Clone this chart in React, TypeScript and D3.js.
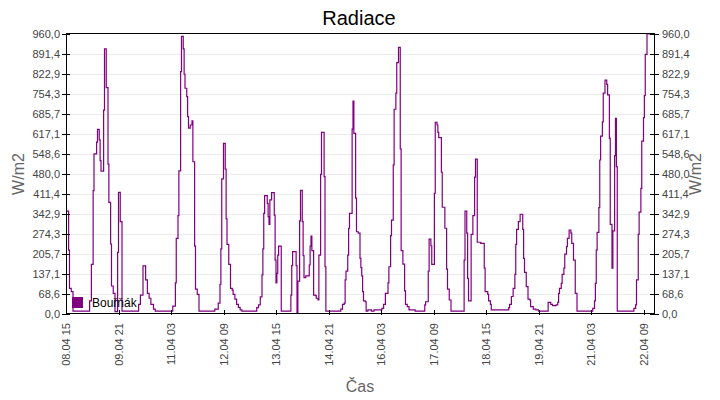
import React from "react";
import * as d3 from "d3";

// Half-hour offsets from 08.04 15:00 where a new value starts (step data)
const slots = [
  0, 3, 4, 6, 8, 27, 29, 31, 32, 35, 36, 38, 39, 40, 43, 44, 46, 48, 49, 51, 52, 54, 56, 59, 60, 62, 64,
  83, 85, 88, 91, 93, 95, 97, 100, 102,
  122, 125, 126, 128, 129, 131, 132, 134, 135, 136, 138, 139, 140, 142, 144, 145, 147, 148, 150, 152,
  170, 174, 176, 177, 178, 180, 182, 183, 184, 186, 188, 190, 191, 193, 195, 197, 199, 201,
  218, 220, 222, 224, 225, 226, 227, 230, 231, 232, 233, 235, 238, 239, 240, 241, 242, 243, 246,
  257, 258, 259, 263, 264, 265, 267, 268, 270, 271, 272, 274, 278, 279, 280, 281, 283, 285, 286, 288, 289, 291, 292, 295, 296, 297,
  314, 316, 318, 319, 320, 322, 323, 324, 327, 328, 329, 331, 332, 334, 336, 337, 338, 339, 340, 342, 343, 345, 349, 352,
  361, 363, 365, 368, 369, 371, 372, 374, 375, 377, 378, 380, 382, 383, 385, 387, 388, 390, 392, 399,
  410, 411, 414, 415, 417, 418, 421, 422, 424, 425, 426, 429, 430, 433, 435, 436, 438, 440,
  455, 456, 458, 459, 460, 463, 465, 467, 468, 470, 474, 478, 479, 482, 483, 485, 486,
  506, 507, 509, 511, 513, 514, 515, 517, 519, 522, 523, 524, 526, 528, 530, 531, 534, 537, 540,
  551, 554, 556, 560, 562, 563, 564, 566, 567, 569, 570, 572, 573, 575, 577, 578, 580, 582, 584,
  602, 604, 605, 606, 607, 609, 610, 611, 613, 614, 616, 618, 619, 621, 622, 624, 625, 627, 628, 629, 630,
  649, 651, 652, 654, 655, 657, 658, 660, 661, 662, 664
];

// Radiation values (W/m2) starting at each slot
const radiation = [
  353, 219, 88, 77, 10, 45, 170, 423, 549, 589, 633, 597, 526, 490, 699, 909, 776, 514, 383, 240, 96, 71, 8, 211, 417, 317, 10,
  33, 65, 165, 117, 71, 54, 33, 17, 10,
  27, 107, 259, 337, 491, 831, 952, 909, 822, 774, 745, 677, 637, 648, 662, 522, 233, 85, 67, 10,
  17, 37, 102, 223, 463, 585, 497, 326, 239, 170, 88, 82, 67, 51, 33, 23, 14, 10,
  22, 31, 59, 134, 223, 345, 406, 379, 334, 307, 391, 416, 339, 185, 107, 139, 202, 233, 10,
  65, 166, 214, 166, 2, 113, 319, 424, 317, 200, 125, 131, 168, 233, 267, 217, 65, 63, 54, 48, 202, 479, 623, 471, 162, 10,
  17, 33, 37, 117, 147, 202, 294, 345, 634, 730, 619, 397, 282, 277, 191, 159, 131, 77, 45, 42, 10, 14, 10, 14,
  19, 33, 71, 107, 162, 269, 322, 511, 702, 757, 862, 914, 566, 217, 171, 79, 33, 25, 14, 10,
  31, 42, 147, 257, 234, 170, 414, 657, 648, 623, 605, 486, 366, 294, 154, 85, 48, 10,
  185, 353, 277, 122, 45, 273, 337, 469, 531, 246, 242, 157, 77, 67, 45, 33, 14,
  22, 33, 60, 88, 136, 239, 290, 317, 342, 290, 191, 143, 94, 51, 48, 25, 17, 14, 10,
  40, 33, 29, 31, 40, 71, 88, 105, 136, 157, 205, 231, 259, 288, 277, 242, 185, 71, 10,
  19, 45, 105, 219, 280, 365, 528, 610, 659, 757, 802, 787, 751, 602, 307, 157, 285, 543, 671, 505, 10,
  19, 31, 117, 273, 349, 431, 593, 673, 749, 890, 960
];

const xTickLabels = [
  "08.04 15", "09.04 21", "11.04 03", "12.04 09", "13.04 15", "14.04 21",
  "16.04 03", "17.04 09", "18.04 15", "19.04 21", "21.04 03", "22.04 09"
];
const yTickLabels = [
  "0,0", "68,6", "137,1", "205,7", "274,3", "342,9", "411,4", "480,0",
  "548,6", "617,1", "685,7", "754,3", "822,9", "891,4", "960,0"
];

const seriesName = "Bouřňák";
const YEAR = 2015;

export default function App() {
  const W = 720, H = 400;
  const left = 66, right = 654, top = 34, bottom = 314;
  const parse = d3.timeParse("%Y %d.%m %H");
  const start = parse(`${YEAR} 08.04 15`) as Date;
  const end = d3.timeHour.offset(start, 336);
  const x = d3.scaleTime().domain([start, end]).range([left, right]);
  const y = d3.scaleLinear().domain([0, 960]).range([bottom, top]);

  const pts = slots.map((s, i) => ({ t: d3.timeMinute.offset(start, s * 30), v: radiation[i] }));
  pts.push({ t: end, v: radiation[radiation.length - 1] });
  const line = d3.line<{ t: Date; v: number }>()
    .x((d) => x(d.t))
    .y((d) => y(d.v))
    .curve(d3.curveStepAfter);

  const yTicks = yTickLabels.map((l, i) => ({ l, v: (960 / 14) * i }));
  const xTicks = xTickLabels.map((l) => ({ l, t: parse(`${YEAR} ${l}`) as Date }));
  const font = "'Liberation Sans', Arial, sans-serif";

  return (
    <svg width={W} height={H} style={{ display: "block", margin: 0, position: "absolute", left: 0, top: 0 }} fontFamily={font}>
      <rect x={0} y={0} width={W} height={H} fill="#fff" />
      {yTicks.slice(1, -1).map((d) => (
        <line key={"g" + d.l} x1={left} x2={right} y1={Math.round(y(d.v)) + 0.5} y2={Math.round(y(d.v)) + 0.5} stroke="#ebebeb" strokeWidth={1} />
      ))}
      <defs>
        <clipPath id="clip">
          <rect x={left} y={top - 1} width={right - left} height={bottom - top + 1} />
        </clipPath>
      </defs>
      <path d={line(pts) ?? ""} fill="none" stroke="#800080" strokeWidth={1.2} clipPath="url(#clip)" />
      <rect x={left + 0.5} y={top - 0.5} width={right - left} height={bottom - top} fill="none" stroke="#000" strokeWidth={1} />
      {yTicks.map((d) => {
        const yy = Math.round(y(d.v)) + 0.5;
        return (
          <g key={"y" + d.l}>
            <line x1={left - 4} x2={left + 4} y1={yy} y2={yy} stroke="#000" />
            <line x1={right - 4} x2={right + 5} y1={yy} y2={yy} stroke="#000" />
            <text x={left - 6} y={yy} dy="0.35em" textAnchor="end" fontSize={11} fill="#444">{d.l}</text>
            <text x={right + 8} y={yy} dy="0.35em" textAnchor="start" fontSize={11} fill="#444">{d.l}</text>
          </g>
        );
      })}
      {xTicks.map((d) => {
        const xx = Math.round(x(d.t)) + 0.5;
        return (
          <g key={"x" + d.l}>
            <line x1={xx} x2={xx} y1={bottom - 4} y2={bottom + 1} stroke="#000" />
            <text transform={`translate(${xx},${bottom + 9}) rotate(-90)`} dy="0.35em" textAnchor="end" fontSize={11} fill="#444">{d.l}</text>
          </g>
        );
      })}
      <rect x={72} y={297} width={11} height={11} fill="#800080" />
      <text x={92} y={307} fontSize={12} fill="#000">{seriesName}</text>
      <text x={359} y={25} textAnchor="middle" fontSize={20} fill="#000">Radiace</text>
      <text x={360} y={392} textAnchor="middle" fontSize={16} fill="#666">Čas</text>
      <text transform={`translate(24,${(top + bottom) / 2}) rotate(-90)`} textAnchor="middle" fontSize={16} fill="#666">W/m2</text>
      <text transform={`translate(701,${(top + bottom) / 2}) rotate(-90)`} textAnchor="middle" fontSize={16} fill="#666">W/m2</text>
    </svg>
  );
}
